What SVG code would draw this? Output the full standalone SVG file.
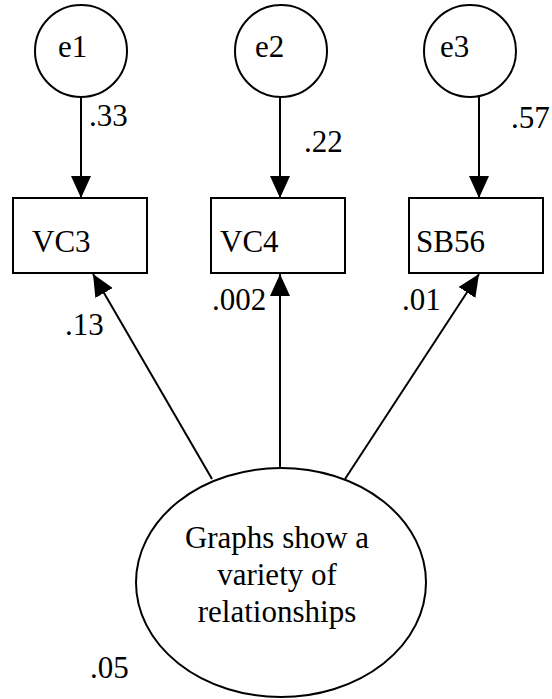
<svg xmlns="http://www.w3.org/2000/svg" width="552" height="699" viewBox="0 0 552 699">
<style>
.s{fill:#fff;stroke:#000;stroke-width:2}
.t{font-family:"Liberation Serif","Times New Roman",serif;font-size:31px;fill:#000}
.c{stroke:#000;stroke-width:2;fill:none;marker-end:url(#ah)}
</style>
<defs>
<marker id="ah" markerUnits="userSpaceOnUse" viewBox="0 0 22 20" refX="22" refY="10" markerWidth="22" markerHeight="20" orient="auto">
<path d="M0,0 L22,10 L0,20 Z" fill="#000"/>
</marker>
</defs>
<rect width="552" height="699" fill="#fff"/>
<g id="connectors">
<line class="c" x1="81" y1="97" x2="81" y2="198"/>
<line class="c" x1="280" y1="97" x2="280" y2="198"/>
<line class="c" x1="479" y1="97" x2="479" y2="198"/>
<line class="c" x1="212" y1="479" x2="93" y2="274"/>
<line class="c" x1="280" y1="468" x2="280" y2="274"/>
<line class="c" x1="345" y1="479" x2="479" y2="274"/>
</g>
<g id="labels">
<text class="t" x="89" y="126">.33</text>
<text class="t" x="304" y="152">.22</text>
<text class="t" x="511" y="128">.57</text>
<text class="t" x="65" y="335">.13</text>
<text class="t" x="212" y="310">.002</text>
<text class="t" x="402" y="310">.01</text>
<text class="t" x="90" y="678">.05</text>
</g>
<g id="e1"><circle class="s" cx="81" cy="51" r="46"/><text class="t" x="58" y="57">e1</text></g>
<g id="e2"><circle class="s" cx="281" cy="51" r="46"/><text class="t" x="255" y="57">e2</text></g>
<g id="e3"><circle class="s" cx="470" cy="51" r="46"/><text class="t" x="440" y="57">e3</text></g>
<g id="VC3"><rect class="s" x="13" y="198" width="134" height="75"/><text class="t" x="32" y="252">VC3</text></g>
<g id="VC4"><rect class="s" x="211" y="198" width="134" height="75"/><text class="t" x="220" y="252">VC4</text></g>
<g id="SB56"><rect class="s" x="409" y="198" width="134" height="75"/><text class="t" x="416" y="252">SB56</text></g>
<g id="graphs"><ellipse class="s" cx="281" cy="582.5" rx="145" ry="114.5"/>
<text class="t" text-anchor="middle" x="277"><tspan x="277" y="548">Graphs show a</tspan><tspan x="277" y="585">variety of</tspan><tspan x="277" y="622">relationships</tspan></text></g>
</svg>
